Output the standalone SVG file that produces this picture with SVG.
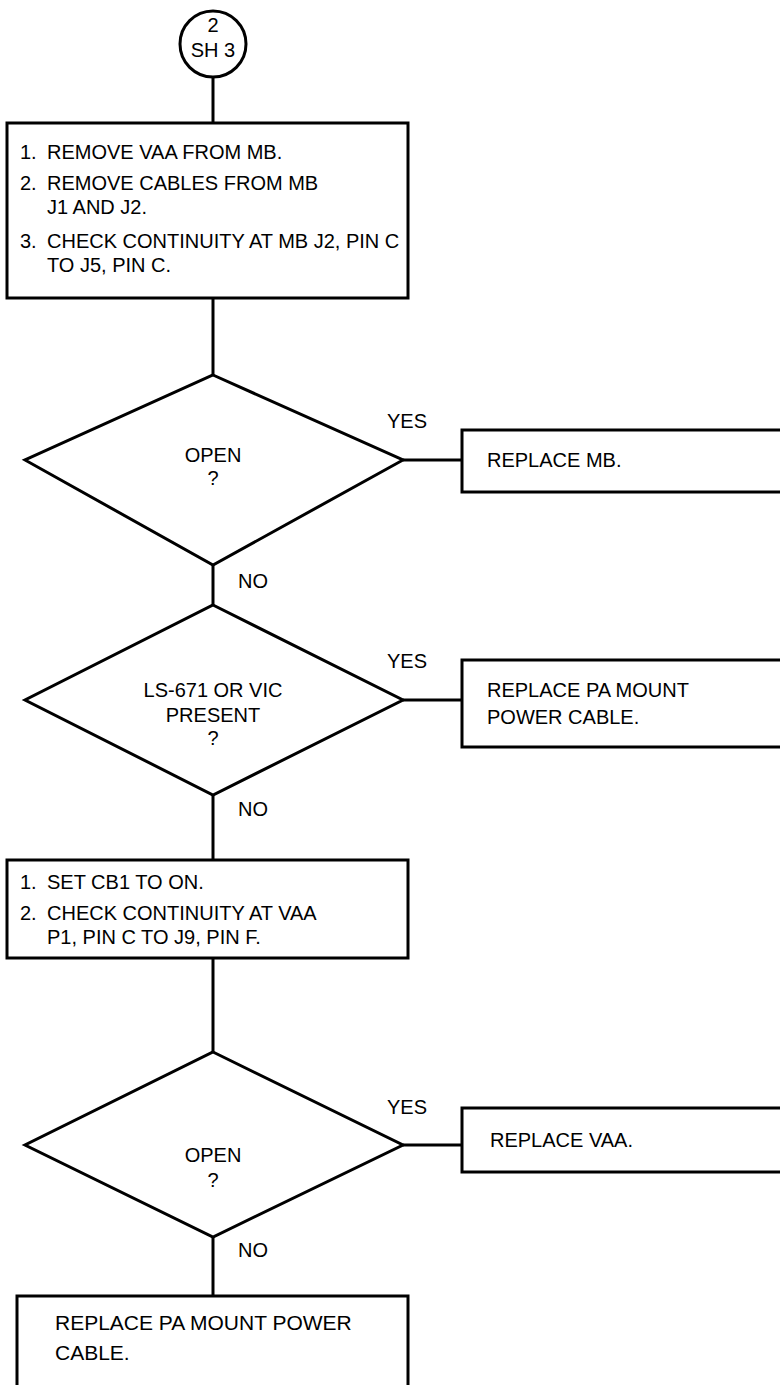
<svg xmlns="http://www.w3.org/2000/svg" width="780" height="1385" viewBox="0 0 780 1385">
<style>
.s{fill:#fff;stroke:#000;stroke-width:3}
.c{fill:none;stroke:#000;stroke-width:3}
text{font-family:"Liberation Sans",Arial,sans-serif;font-size:20px;fill:#000}
.m{text-anchor:middle}
.b{font-size:21px}
</style>
<rect width="780" height="1385" fill="#fff"/>
<g id="connectors">
<line class="c" x1="213" y1="78" x2="213" y2="123"/>
<line class="c" x1="213" y1="298" x2="213" y2="375"/>
<line class="c" x1="403" y1="460" x2="462" y2="460"/>
<line class="c" x1="213" y1="565" x2="213" y2="605"/>
<line class="c" x1="403" y1="700" x2="462" y2="700"/>
<line class="c" x1="213" y1="795" x2="213" y2="860"/>
<line class="c" x1="213" y1="958" x2="213" y2="1052"/>
<line class="c" x1="403" y1="1145" x2="462" y2="1145"/>
<line class="c" x1="213" y1="1237" x2="213" y2="1296"/>
<text x="387" y="428">YES</text>
<text x="238" y="588">NO</text>
<text x="387" y="668">YES</text>
<text x="238" y="816">NO</text>
<text x="387" y="1114">YES</text>
<text x="238" y="1257">NO</text>
</g>
<g id="start">
<circle class="s" cx="213" cy="44" r="33"/>
<text class="m" x="213" y="32">2</text>
<text class="m" x="213" y="57">SH 3</text>
</g>
<g id="box1">
<rect class="s" x="7" y="123" width="401" height="175"/>
<text x="20" y="159">1.</text><text x="47" y="159">REMOVE VAA FROM MB.</text>
<text x="20" y="190">2.</text><text x="47" y="190">REMOVE CABLES FROM MB</text>
<text x="47" y="214">J1 AND J2.</text>
<text x="20" y="248">3.</text><text x="47" y="248">CHECK CONTINUITY AT MB J2, PIN C</text>
<text x="47" y="272">TO J5, PIN C.</text>
</g>
<g id="dec1">
<polygon class="s" points="213,375 403,460 213,565 25,460"/>
<text class="m" x="213" y="462">OPEN</text>
<text class="m" x="213" y="485">?</text>
</g>
<g id="replMB">
<rect class="s" x="462" y="430" width="330" height="62"/>
<text x="487" y="467">REPLACE MB.</text>
</g>
<g id="dec2">
<polygon class="s" points="213,605 403,700 213,795 25,700"/>
<text class="m" x="213" y="697">LS-671 OR VIC</text>
<text class="m" x="213" y="722">PRESENT</text>
<text class="m" x="213" y="745">?</text>
</g>
<g id="replPA1">
<rect class="s" x="462" y="660" width="330" height="87"/>
<text x="487" y="697">REPLACE PA MOUNT</text>
<text x="487" y="724">POWER CABLE.</text>
</g>
<g id="box2">
<rect class="s" x="7" y="860" width="401" height="98"/>
<text x="20" y="889">1.</text><text x="47" y="889">SET CB1 TO ON.</text>
<text x="20" y="920">2.</text><text x="47" y="920">CHECK CONTINUITY AT VAA</text>
<text x="47" y="944">P1, PIN C TO J9, PIN F.</text>
</g>
<g id="dec3">
<polygon class="s" points="213,1052 403,1145 213,1237 25,1145"/>
<text class="m" x="213" y="1162">OPEN</text>
<text class="m" x="213" y="1187">?</text>
</g>
<g id="replVAA">
<rect class="s" x="462" y="1108" width="330" height="64"/>
<text x="490" y="1147">REPLACE VAA.</text>
</g>
<g id="replPA2">
<rect class="s" x="17" y="1296" width="391" height="100"/>
<text class="b" x="55" y="1330">REPLACE PA MOUNT POWER</text>
<text class="b" x="55" y="1360">CABLE.</text>
</g>
</svg>
